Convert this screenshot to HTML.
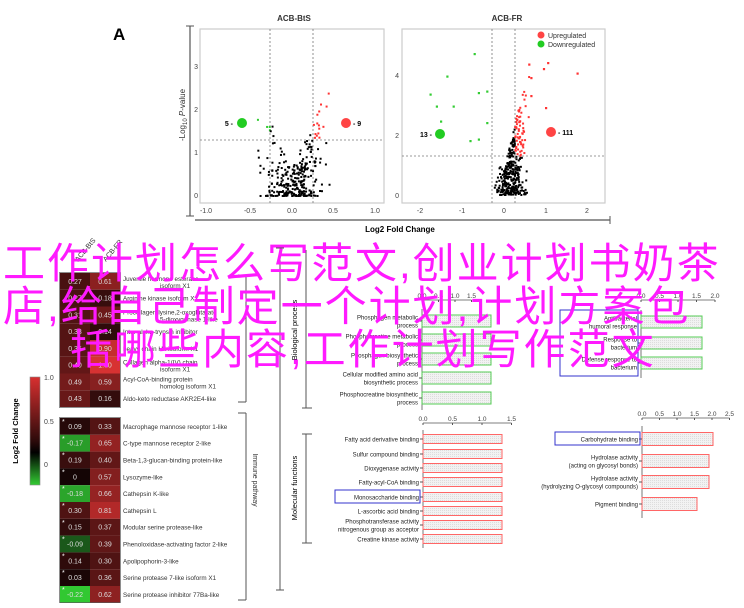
<!DOCTYPE html>
<html><head><meta charset="utf-8"><style>
html,body{margin:0;padding:0;background:#fff;}
#w{position:relative;width:744px;height:608px;overflow:hidden;font-family:"Liberation Sans",sans-serif;}
svg{position:absolute;left:0;top:0;}
.ov{position:absolute;left:0;font-family:"Liberation Sans","Noto Sans CJK SC",sans-serif;font-size:42px;color:#ff1aff;white-space:nowrap;line-height:42px;letter-spacing:2px;}
</style></head><body><div id="w">
<svg id="s" width="744" height="608" viewBox="0 0 744 608" font-family="Liberation Sans, sans-serif">
<defs><linearGradient id="cb" x1="0" y1="0" x2="0" y2="1"><stop offset="0" stop-color="#d83030"/><stop offset="0.6" stop-color="#2a0a0a"/><stop offset="0.7" stop-color="#000"/><stop offset="1" stop-color="#3c3"/></linearGradient>
<pattern id="dt" width="2" height="2" patternUnits="userSpaceOnUse"><rect width="2" height="2" fill="#f2f2f2"/><rect width="1" height="1" fill="#ddd"/></pattern></defs>
<text x="113" y="40" font-size="17" font-weight="bold">A</text>
<text x="294" y="21" font-size="8" font-weight="bold" text-anchor="middle" fill="#333">ACB-BtS</text>
<rect x="200" y="29" width="184" height="174" fill="none" stroke="#ccc" stroke-width="1.2"/>
<line x1="270" y1="29" x2="270" y2="203" stroke="#777" stroke-dasharray="2,2" stroke-width="0.8"/>
<line x1="313" y1="29" x2="313" y2="203" stroke="#777" stroke-dasharray="2,2" stroke-width="0.8"/>
<line x1="200" y1="140" x2="384" y2="140" stroke="#777" stroke-dasharray="2,2" stroke-width="0.8"/>
<g font-size="7" fill="#444" text-anchor="end"><text x="198" y="198">0</text><text x="198" y="155">1</text><text x="198" y="112">2</text><text x="198" y="69">3</text></g>
<g font-size="7" fill="#444" text-anchor="middle"><text x="206" y="213">-1.0</text><text x="250" y="213">-0.5</text><text x="292" y="213">0.0</text><text x="333" y="213">0.5</text><text x="375" y="213">1.0</text></g>
<circle cx="242" cy="123" r="5" fill="#2c2"/><text x="233" y="126" font-size="7" font-weight="bold" text-anchor="end">5 -</text>
<circle cx="346" cy="123" r="5" fill="#f44"/><text x="353" y="126" font-size="7" font-weight="bold">- 9</text>
<line x1="190" y1="26" x2="190" y2="216" stroke="#555" stroke-width="1.2"/><line x1="186" y1="26" x2="194" y2="26" stroke="#555"/><line x1="186" y1="216" x2="194" y2="216" stroke="#555"/>
<text transform="translate(185,115) rotate(-90)" font-size="8" text-anchor="middle" fill="#333">-Log<tspan font-size="6" dy="2">10</tspan><tspan dy="-2"> </tspan><tspan font-style="italic">P</tspan>-value</text>
<text x="507" y="21" font-size="8" font-weight="bold" text-anchor="middle" fill="#333">ACB-FR</text>
<rect x="402" y="29" width="203" height="174" fill="none" stroke="#ccc" stroke-width="1.2"/>
<line x1="492" y1="29" x2="492" y2="203" stroke="#777" stroke-dasharray="2,2" stroke-width="0.8"/>
<line x1="515" y1="29" x2="515" y2="203" stroke="#777" stroke-dasharray="2,2" stroke-width="0.8"/>
<line x1="402" y1="156" x2="605" y2="156" stroke="#777" stroke-dasharray="2,2" stroke-width="0.8"/>
<g font-size="7" fill="#444" text-anchor="end"><text x="399" y="198">0</text><text x="399" y="138">2</text><text x="399" y="78">4</text></g>
<g font-size="7" fill="#444" text-anchor="middle"><text x="420" y="213">-2</text><text x="462" y="213">-1</text><text x="504" y="213">0</text><text x="546" y="213">1</text><text x="587" y="213">2</text></g>
<circle cx="541" cy="35" r="3.5" fill="#f44"/><text x="548" y="38" font-size="7" fill="#333">Upregulated</text>
<circle cx="541" cy="44" r="3.5" fill="#2c2"/><text x="548" y="47" font-size="7" fill="#333">Downregulated</text>
<circle cx="440" cy="134" r="5" fill="#2c2"/><text x="432" y="137" font-size="7" font-weight="bold" text-anchor="end">13 -</text>
<circle cx="551" cy="132" r="5" fill="#f44"/><text x="558" y="135" font-size="7" font-weight="bold">- 111</text>
<line x1="195" y1="220" x2="610" y2="220" stroke="#555" stroke-width="1.2"/><line x1="610" y1="216" x2="610" y2="224" stroke="#555"/>
<text x="400" y="232" font-size="8" font-weight="bold" text-anchor="middle">Log2 Fold Change</text>
<g id="pts"></g>
<text transform="translate(78,262) rotate(-50)" font-size="7" fill="#333">ACB-BtS</text>
<text transform="translate(106,262) rotate(-50)" font-size="7" fill="#333">ACB-FR</text>
<g id="hm"></g>
<rect x="30" y="377" width="10" height="108" fill="url(#cb)" stroke="#888" stroke-width="0.6"/>
<g font-size="7" fill="#444"><text x="44" y="380">1.0</text><text x="44" y="424">0.5</text><text x="44" y="467">0</text></g>
<text transform="translate(18,431) rotate(-90)" font-size="7.5" font-weight="bold" text-anchor="middle">Log2 Fold Change</text>
<line x1="238" y1="275" x2="246" y2="275" stroke="#555"/><line x1="246" y1="275" x2="246" y2="402" stroke="#555"/><line x1="238" y1="402" x2="246" y2="402" stroke="#555"/>
<line x1="238" y1="413" x2="246" y2="413" stroke="#555"/><line x1="246" y1="413" x2="246" y2="600" stroke="#555"/><line x1="238" y1="600" x2="246" y2="600" stroke="#555"/>
<text transform="translate(253,480) rotate(90)" font-size="7" fill="#333" text-anchor="middle">Immune pathway</text>
<line x1="280" y1="248" x2="280" y2="590" stroke="#555"/><line x1="276" y1="248" x2="284" y2="248" stroke="#555"/><line x1="276" y1="590" x2="284" y2="590" stroke="#555"/>
<line x1="306" y1="250" x2="306" y2="408" stroke="#555"/><line x1="302" y1="408" x2="312" y2="408" stroke="#555"/>
<text transform="translate(297,330) rotate(-90)" font-size="7.5" text-anchor="middle">Biological process</text>
<line x1="306" y1="434" x2="306" y2="543" stroke="#555"/><line x1="302" y1="434" x2="312" y2="434" stroke="#555"/><line x1="302" y1="543" x2="312" y2="543" stroke="#555"/>
<text transform="translate(297,488) rotate(-90)" font-size="7.5" text-anchor="middle">Molecular functions</text>
<g id="bars"></g>
</svg>
<div class="ov" style="top:243px;left:3px;">工作计划怎么写范文,创业计划书奶茶</div>
<div class="ov" style="top:286px;left:3px;">店,给自己制定一个计划,计划方案包</div>
<div class="ov" style="top:329px;left:70px;">括哪些内容,工作计划写作范文</div>
</div>
<script>
(function(){
var NS="http://www.w3.org/2000/svg";
function el(p,t,a,txt){var e=document.createElementNS(NS,t);for(var k in a)e.setAttribute(k,a[k]);if(txt!=null)e.textContent=txt;p.appendChild(e);return e;}
var seed=7;function r(){seed=(seed*16807)%2147483647;return seed/2147483647;}
function g(){return (r()+r()+r()-1.5)/1.5;}
var P=document.getElementById('pts');
for(var i=0;i<300;i++){var fx=g()*0.5+0.03,fy=Math.pow(r(),1.8)*(0.6+Math.abs(fx)*4.5);var x=292+fx*83,y=196-fy*43;var c='#000';if(fy>1.3&&fx>0.26)c='#f33';if(fy>1.3&&fx<-0.26)c='#3c3';el(P,'rect',{x:x-1,y:y-1,width:2,height:2,fill:c});}
for(var i=0;i<360;i++){var fx=g()*0.5+0.2,fy=Math.pow(r(),1.4)*(0.8+Math.max(0,fx)*6+Math.max(0,-fx)*2);var x=504+fx*42,y=195-fy*30;if(y<40)continue;var c='#000';if(fy>1.3&&fx>0.26)c='#f33';if(fy>1.3&&fx<-0.26)c='#3c3';el(P,'rect',{x:x-1,y:y-1,width:2,height:2,fill:c});}
[[-1.75,3.35],[-1.6,2.95],[-1.35,3.95],[-1.2,2.95],[-0.7,4.7],[-0.6,3.4],[-0.4,3.45],[-0.4,2.4],[-0.8,1.8],[-0.6,1.85],[-1.5,2.45]].forEach(function(p){el(P,'rect',{x:504+p[0]*42-1,y:195-p[1]*30-1,width:2.2,height:2.2,fill:'#3c3'});});
[[0.6,4.35],[1.05,4.4],[0.95,4.2],[1.75,4.05],[0.65,3.9],[1.0,2.9],[0.65,3.3]].forEach(function(p){el(P,'rect',{x:504+p[0]*42-1,y:195-p[1]*30-1,width:2.2,height:2.2,fill:'#f33'});});
var H=document.getElementById('hm');
function col(v){if(v>=0){var t=Math.min(v/1.0,1);return 'rgb('+Math.round(20+t*195)+','+Math.round(5+t*45)+','+Math.round(5+t*45)+')';}var t=Math.min(-v/0.22,1);return 'rgb('+Math.round(10+t*40)+','+Math.round(10+t*190)+','+Math.round(10+t*40)+')';}
var topRows=[[0.27,0.61,"Juvenile hormone esterase","isoform X1"],[0.27,0.18,"Arginine kinase isoform X1"],[0.31,0.45,"Procollagen-lysine,2-oxoglutarate","5-dioxygenase 1-like"],[0.33,0.14,"Inter-alpha-trypsin inhibitor"],[0.35,0.90,"heavy chain H4 isoform X1"],[0.40,1.00,"Collagen alpha-1(IV) chain","isoform X1"],[0.49,0.59,"Acyl-CoA-binding protein","homolog isoform X1"],[0.43,0.16,"Aldo-keto reductase AKR2E4-like"]];
var botRows=[[0.09,0.33,"Macrophage mannose receptor 1-like"],[-0.17,0.65,"C-type mannose receptor 2-like"],[0.19,0.40,"Beta-1,3-glucan-binding protein-like"],[0,0.57,"Lysozyme-like"],[-0.18,0.66,"Cathepsin K-like"],[0.30,0.81,"Cathepsin L"],[0.15,0.37,"Modular serine protease-like"],[-0.09,0.39,"Phenoloxidase-activating factor 2-like"],[0.14,0.30,"Apolipophorin-3-like"],[0.03,0.36,"Serine protease 7-like isoform X1"],[-0.22,0.62,"Serine protease inhibitor 77Ba-like"]];
function rows(arr,y0,h,star){arr.forEach(function(d,i){var y=y0+i*h;el(H,'rect',{x:60,y:y,width:30,height:h,fill:col(d[0])});el(H,'rect',{x:90,y:y,width:30,height:h,fill:col(d[1])});
el(H,'text',{x:75,y:y+h/2+2.5,'font-size':7,fill:'#ddd','text-anchor':'middle'},d[0]===0?'0':d[0].toFixed(2));
if(star)el(H,'text',{x:62,y:y+6,'font-size':7,fill:'#fff'},'*');
el(H,'text',{x:105,y:y+h/2+2.5,'font-size':7,fill:'#ddd','text-anchor':'middle'},d[1].toFixed(2));
if(d[3]){el(H,'text',{x:123,y:y+h/2-0.5,'font-size':6.3,fill:'#333'},d[2]);el(H,'text',{x:160,y:y+h/2+6.5,'font-size':6.3,fill:'#333'},d[3]);}
else el(H,'text',{x:123,y:y+h/2+2.5,'font-size':6.3,fill:'#333'},d[2]);});}
rows(topRows,273,16.75,false);rows(botRows,418,16.8,true);
el(H,'rect',{x:59.5,y:272.5,width:61,height:135,fill:'none',stroke:'#444','stroke-width':0.6});
el(H,'rect',{x:59.5,y:417.5,width:61,height:185,fill:'none',stroke:'#444','stroke-width':0.6});
var B=document.getElementById('bars');
function axis(x0,y,ticks,scale){el(B,'line',{x1:x0,y1:y,x2:x0+ticks[ticks.length-1]*scale,y2:y,stroke:'#555','stroke-width':0.8});ticks.forEach(function(t){el(B,'line',{x1:x0+t*scale,y1:y,x2:x0+t*scale,y2:y+2,stroke:'#555'});el(B,'text',{x:x0+t*scale,y:y-2,'font-size':6.5,'text-anchor':'middle',fill:'#444'},t.toFixed(1));});}
function bars(x0,ys,ws,h,color,labels,ybot){el(B,'line',{x1:x0,y1:ys[0]-h,x2:x0,y2:ybot,stroke:'#555','stroke-width':0.8});ys.forEach(function(y,i){el(B,'rect',{x:x0,y:y-h/2,width:ws[i],height:h,fill:'url(#dt)',stroke:color,'stroke-width':1});
var L=labels[i];if(typeof L=='string')L=[L];el(B,'line',{x1:x0-3,y1:y,x2:x0,y2:y,stroke:'#555'});
L.forEach(function(s,j){el(B,'text',{x:x0-4,y:y+2.5+(j-(L.length-1)/2)*8,'font-size':6,'text-anchor':'end',fill:'#222'},s);});});}
axis(422,300,[0,0.5,1.0,1.5],33);
bars(422,[321,340,359,378,398],[69,69,69,69,69],12,'#5c5',[["Phosphagen metabolic","process"],["Phosphocreatine metabolic","process"],["Phosphagen biosynthetic","process"],["Cellular modified amino acid","biosynthetic process"],["Phosphocreatine biosynthetic","process"]],410);
axis(641,300,[0,0.5,1.0,1.5,2.0],37);
bars(641,[322,343,363],[61,61,61],12,'#5c5',[["Antibacterial","humoral response"],["Response to","bacterium"],["Defense response to","bacterium"]],378);
el(B,'rect',{x:560,y:310,width:78,height:66,fill:'none',stroke:'#33c','stroke-width':1});
axis(423,423,[0,0.5,1.0,1.5],59);
bars(423,[439,454,468,482,497,511,525,539],[79,79,79,79,79,79,79,79],9,'#f66',["Fatty acid derivative binding","Sulfur compound binding","Dioxygenase activity","Fatty-acyl-CoA binding","Monosaccharide binding","L-ascorbic acid binding",["Phosphotransferase activity","nitrogenous group as acceptor"],"Creatine kinase activity"],548);
el(B,'rect',{x:335,y:490,width:85,height:13,fill:'none',stroke:'#33c','stroke-width':1});
axis(642,418,[0,0.5,1.0,1.5,2.0,2.5],35);
bars(642,[439,461,482,504],[71,67,67,55],13,'#f66',["Carbohydrate binding",["Hydrolase activity","(acting on glycosyl bonds)"],["Hydrolase activity","(hydrolyzing O-glycosyl compounds)"],"Pigment binding"],518);
el(B,'rect',{x:555,y:432,width:85,height:13,fill:'none',stroke:'#33c','stroke-width':1});
})();
</script>
</body></html>
